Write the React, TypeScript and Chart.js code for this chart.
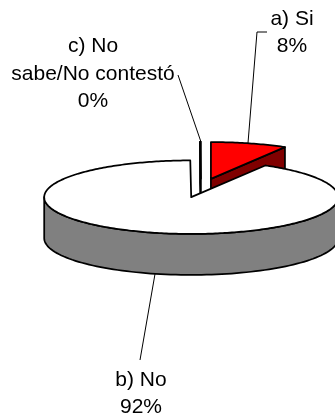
import React, { useEffect, useRef } from "react";
import { Chart, registerables } from "chart.js";

Chart.register(...registerables);

const categories = ["a) Si", "b) No", "c) No sabe/No contestó"];
const sliceValues = [8.4, 91.5, 0.1];
const topColors = ["#ff0000", "#ffffff", "#ffffff"];
const wallColors = ["#800000", "#808080", "#ffffff"];
const labelLines = [["a) Si"], ["b) No"], ["c) No", "sabe/No contestó"]];
const labelCenters = [[292, 25], [141, 386], [93, 52]];
const labelLineGaps = [27, 27, 27.5];
const leaderLines = [
  [[248, 143], [257, 32], [267, 32]],
  [[155, 274], [140, 360]],
  [[178, 75], [201, 142]],
];

const CX = 201;
const CY = 188;
const SQUASH = 0.25;
const DEPTH = 41;
const EXPLODE = 38;

const pie3d = {
  id: "pie3d",
  beforeDatasetsDraw(chart: any) {
    const ctx: CanvasRenderingContext2D = chart.ctx;
    const arcs: any[] = chart.getDatasetMeta(0).data;
    const order = [0, 2, 1];
    ctx.save();
    ctx.lineJoin = "round";
    for (const i of order) {
      const el = arcs[i];
      const mid = (el.startAngle + el.endAngle) / 2;
      const ox = CX + Math.cos(mid) * EXPLODE;
      const oy = CY + Math.sin(mid) * EXPLODE * SQUASH;
      const R = el.outerRadius;
      const pt = (a: number, r = R, d = 0): [number, number] => [
        ox + Math.cos(a) * r,
        oy + Math.sin(a) * r * SQUASH + d,
      ];
      ctx.strokeStyle = "#000";
      ctx.lineWidth = 1.75;

      // walls
      ctx.fillStyle = wallColors[i];
      if (i === 1) {
        ctx.beginPath();
        const steps = 90;
        for (let s = 0; s <= steps; s++) {
          const p = pt((Math.PI * s) / steps);
          s === 0 ? ctx.moveTo(p[0], p[1]) : ctx.lineTo(p[0], p[1]);
        }
        for (let s = steps; s >= 0; s--) {
          const p = pt((Math.PI * s) / steps, R, DEPTH);
          ctx.lineTo(p[0], p[1]);
        }
        ctx.closePath();
        ctx.fill();
        ctx.stroke();
      } else {
        const a = i === 0 ? el.endAngle : el.startAngle;
        const p = pt(a);
        const q = pt(a, R, DEPTH);
        const c = pt(a, 0);
        const e = pt(a, 0, DEPTH);
        ctx.beginPath();
        ctx.moveTo(c[0], c[1]);
        ctx.lineTo(p[0], p[1]);
        ctx.lineTo(q[0], q[1]);
        ctx.lineTo(e[0], e[1]);
        ctx.closePath();
        ctx.fill();
        ctx.stroke();
      }

      // top face, filled by the library's arc element in a flattened space
      ctx.save();
      ctx.translate(ox, oy);
      ctx.scale(1, SQUASH);
      ctx.translate(-el.x, -el.y);
      el.draw(ctx);
      ctx.restore();

      // outline stroked in device space for an even line width
      ctx.beginPath();
      ctx.moveTo(ox, oy);
      const steps = Math.max(2, Math.ceil((el.endAngle - el.startAngle) * 60));
      for (let s = 0; s <= steps; s++) {
        const p = pt(el.startAngle + ((el.endAngle - el.startAngle) * s) / steps);
        ctx.lineTo(p[0], p[1]);
      }
      ctx.closePath();
      ctx.stroke();
    }

    // leader lines
    ctx.lineWidth = 1;
    ctx.strokeStyle = "#000";
    for (const line of leaderLines) {
      ctx.beginPath();
      line.forEach((p, k) => (k ? ctx.lineTo(p[0], p[1]) : ctx.moveTo(p[0], p[1])));
      ctx.stroke();
    }

    // labels
    const total = sliceValues.reduce((a, b) => a + b, 0);
    ctx.fillStyle = "#000";
    ctx.font = '21px "Liberation Sans", Arial, sans-serif';
    ctx.textAlign = "center";
    ctx.textBaseline = "alphabetic";
    categories.forEach((_, i) => {
      const lines = [...labelLines[i], `${Math.round((sliceValues[i] / total) * 100)}%`];
      lines.forEach((t, k) => {
        ctx.fillText(t, labelCenters[i][0], labelCenters[i][1] + k * labelLineGaps[i]);
      });
    });
    ctx.restore();
    return false;
  },
};

export default function App() {
  const ref = useRef<HTMLCanvasElement>(null);
  useEffect(() => {
    document.body.style.margin = "0";
    const chart = new Chart(ref.current!, {
      type: "pie",
      data: {
        labels: categories,
        datasets: [
          {
            data: sliceValues,
            backgroundColor: topColors,
            borderWidth: 0,
          },
        ],
      },
      options: {
        animation: false,
        responsive: false,
        radius: 147,
        plugins: { legend: { display: false }, tooltip: { enabled: false } },
      } as any,
      plugins: [pie3d],
    });
    return () => chart.destroy();
  }, []);
  return <canvas ref={ref} width={335} height={419} style={{ display: "block" }} />;
}
